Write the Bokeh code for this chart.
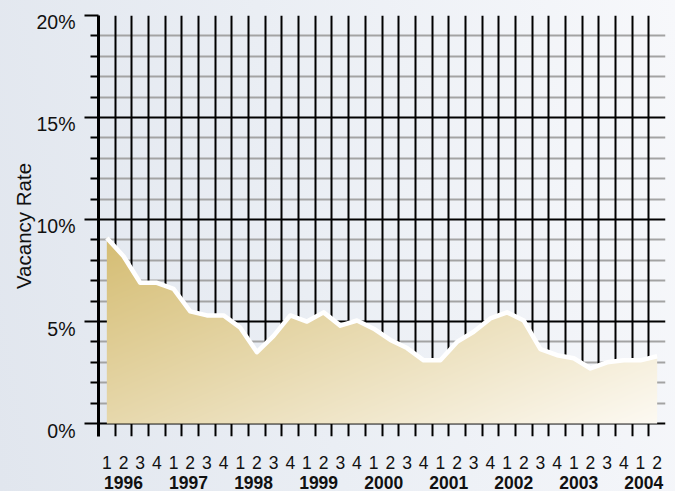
import numpy as np
from bokeh.plotting import figure
from bokeh.models import Range1d, LinearAxis, FixedTicker, CustomJSTickFormatter
from bokeh.embed import file_html
from bokeh.resources import INLINE

# Quarterly vacancy rate (%), 1996 Q1 - 2004 Q2
years = ["1996", "1997", "1998", "1999", "2000", "2001", "2002", "2003", "2004"]
quarters = ["1", "2", "3", "4"] * 8 + ["1", "2"]
vacancy = [9.1, 8.2, 6.9, 6.9, 6.6, 5.5, 5.3, 5.3,
           4.7, 3.5, 4.3, 5.3, 5.0, 5.45, 4.8, 5.05,
           4.65, 4.1, 3.7, 3.1, 3.1, 4.0, 4.5, 5.15,
           5.45, 5.05, 3.65, 3.35, 3.2, 2.7, 3.0, 3.1,
           3.1, 3.3]
y_ticks = [0, 5, 10, 15, 20]
y_minor_ticks = [v for v in range(1, 20) if v % 5]
y_tick_labels = ["0%", "5%", "10%", "15%", "20%"]

n = len(vacancy)
x = np.arange(n) + 0.5
vals = np.array(vacancy, dtype=float)

PX_PER_PCT = 20.5
Y_LOW = -13 / PX_PER_PCT          # room below 0% for the tick stubs
LABEL_SHIFT = 7 / PX_PER_PCT      # y labels hang just below their line
FONT = "Liberation Sans"

p = figure(width=675, height=491, output_backend="svg", toolbar_location=None,
           x_range=Range1d(0, n), y_range=Range1d(Y_LOW, 20),
           min_border_left=98, min_border_right=10, min_border_top=15,
           min_border_bottom=53)
p.border_fill_color = None
p.background_fill_color = None
p.outline_line_color = None
p.styles = {"background": "linear-gradient(80deg, #e1e6ee 0%, #eaeef4 45%, #f7f8fb 100%)"}

# grid: black quarter dividers, black 5% lines, grey 1% lines
xg = p.xgrid[0]
xg.ticker = FixedTicker(ticks=list(range(n + 1)))
xg.grid_line_color = "black"
xg.grid_line_width = 2
yg = p.ygrid[0]
yg.ticker = FixedTicker(ticks=y_ticks, minor_ticks=y_minor_ticks)
yg.grid_line_color = "black"
yg.grid_line_width = 2
yg.minor_grid_line_color = "#a3a3a3"
yg.minor_grid_line_width = 2
p.center = [yg, xg]

# gradient-filled area under the curve
ytop = float(vals.max())
NX, NY = 33 * 24, 420
ymax_img = ytop + 0.4
xc = 0.5 + (np.arange(NX) + 0.5) * (n - 1) / NX
yc = (np.arange(NY) + 0.5) * ymax_img / NY
curve = np.interp(xc, x, vals)
XX, YY = np.meshgrid(xc, yc)
inside = YY <= curve[None, :]
t = 0.55 * (XX - 0.5) / (n - 1) + 0.45 * (1 - YY / ytop)
t = np.clip(t, 0, 1)
c0 = np.array([213, 189, 115], dtype=float)
c1 = np.array([253, 250, 243], dtype=float)
img = np.zeros((NY, NX), dtype=np.uint32)
view = img.view(dtype=np.uint8).reshape((NY, NX, 4))
for k in range(3):
    view[:, :, k] = (c0[k] + (c1[k] - c0[k]) * t).astype(np.uint8)
view[:, :, 3] = np.where(inside, 255, 0).astype(np.uint8)
p.image_rgba(image=[img], x=0.5, y=0, dw=n - 1, dh=ymax_img)

p.line(x, vals, line_color="white", line_width=4.5, line_join="round")

# left axis: line and tick marks
ya = p.yaxis[0]
ya.ticker = FixedTicker(ticks=y_ticks, minor_ticks=y_minor_ticks)
ya.formatter = CustomJSTickFormatter(code="return ''")
ya.major_label_standoff = 0
ya.axis_line_color = "black"
ya.axis_line_width = 3
ya.major_tick_line_color = "black"
ya.major_tick_line_width = 2
ya.major_tick_out = 14
ya.major_tick_in = 0
ya.minor_tick_line_color = "black"
ya.minor_tick_line_width = 2
ya.minor_tick_out = 8
ya.minor_tick_in = 0

# left axis: percentage labels and title
p.extra_y_ranges = {"lab": Range1d(Y_LOW + LABEL_SHIFT, 20 + LABEL_SHIFT)}
la = LinearAxis(y_range_name="lab",
                ticker=FixedTicker(ticks=y_ticks, minor_ticks=[]),
                formatter=CustomJSTickFormatter(args=dict(labels=y_tick_labels),
                                                code="return labels[index]"))
la.axis_line_color = None
la.major_tick_line_color = None
la.minor_tick_line_color = None
la.major_tick_out = 0
la.major_tick_in = 0
la.minor_tick_out = 0
la.minor_tick_in = 0
la.major_label_standoff = 9
la.major_label_text_font = FONT
la.major_label_text_font_size = "19.5px"
la.major_label_text_color = "#111111"
la.axis_label = "Vacancy Rate"
la.axis_label_standoff = -2
la.axis_label_text_font = FONT
la.axis_label_text_font_size = "20.5px"
la.axis_label_text_font_style = "normal"
la.axis_label_text_color = "#111111"
p.add_layout(la, "left")

# bottom: quarter numbers
xa = p.xaxis[0]
xa.ticker = FixedTicker(ticks=list(x), minor_ticks=[])
xa.formatter = CustomJSTickFormatter(args=dict(labels=quarters), code="return labels[index]")
xa.axis_line_color = None
xa.major_tick_line_color = None
xa.minor_tick_line_color = None
xa.major_tick_out = 0
xa.major_tick_in = 0
xa.minor_tick_out = 0
xa.minor_tick_in = 0
xa.major_label_standoff = 19
xa.major_label_text_font = FONT
xa.major_label_text_font_size = "17.5px"
xa.major_label_text_color = "#111111"

# bottom: year labels
year_pos = [1.5 + 3.9 * k for k in range(len(years))]
ya2 = LinearAxis(ticker=FixedTicker(ticks=year_pos, minor_ticks=[]),
                 formatter=CustomJSTickFormatter(args=dict(labels=years),
                                                 code="return labels[index]"))
ya2.axis_line_color = None
ya2.major_tick_line_color = None
ya2.minor_tick_line_color = None
ya2.major_tick_out = 0
ya2.major_tick_in = 0
ya2.minor_tick_out = 0
ya2.minor_tick_in = 0
ya2.major_label_standoff = 4
ya2.major_label_text_font = FONT
ya2.major_label_text_font_size = "17.5px"
ya2.major_label_text_font_style = "bold"
ya2.major_label_text_color = "#111111"
p.add_layout(ya2, "below")

open("out.html", "w").write(file_html(p, INLINE))
